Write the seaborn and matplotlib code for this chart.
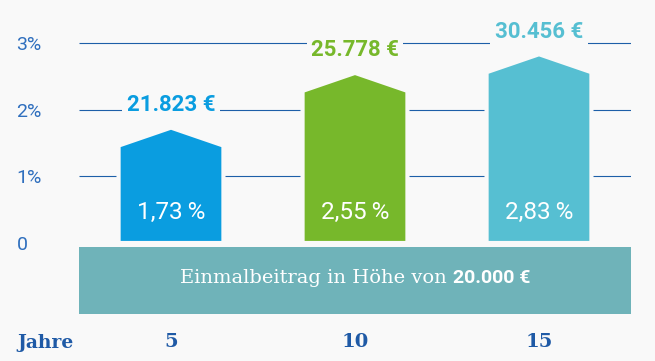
import matplotlib
matplotlib.use("Agg")
import matplotlib.pyplot as plt
import seaborn as sns
import pandas as pd
from matplotlib.patches import Polygon

# ---- data ----
years = ["5", "10", "15"]
rates = [1.73, 2.55, 2.83]
rate_labels = ["1,73\u2009%", "2,55\u2009%", "2,83\u2009%"]
amounts = ["21.823 €", "25.778 €", "30.456 €"]
bar_colors = ["#0a9de0", "#77b82b", "#56bfd2"]
y_ticks = [0, 1, 2, 3]
y_tick_labels = ["0", "1%", "2%", "3%"]
grid_levels = [1, 2, 3]
x_title = "Jahre"
band_regular = "Einmalbeitrag in Höhe von "
band_bold = "20.000 €"

# ---- style ----
BG = "#f9f9f9"
GRID = "#1d5fa8"
TICK = "#2f6fbe"
DARK = "#1f5aa6"
BAND = "#6fb3b9"

sns.set_theme(style="white")
plt.rcParams["font.family"] = ["Roboto", "DejaVu Sans"]

W, H = 655, 361
fig = plt.figure(figsize=(W / 100, H / 100), dpi=100, facecolor=BG)
# axes: x px 79..631, y px 0..314 (from top)
ax = fig.add_axes([79 / W, (H - 314) / H, 552 / W, 314 / H])
ax.set_facecolor(BG)

df = pd.DataFrame({"year": years, "rate": rates})
sns.barplot(data=df, x="year", y="rate", hue="year", palette=bar_colors,
            width=0.57, saturation=1, legend=False, ax=ax, zorder=3)

px_per_unit = 66.7
ymax = 243 / px_per_unit
ymin = -(314 - 243) / px_per_unit
ax.set_xlim(-0.5, 2.5)
ax.set_ylim(ymin, ymax)

roof = 18 / px_per_unit
for patch, val, col in zip(ax.patches, rates, bar_colors):
    x0 = patch.get_x()
    w = patch.get_width()
    patch.set_visible(False)
    xs = x0 + w / 2
    poly = Polygon([(x0, 0), (x0, val - roof), (xs, val), (x0 + w, val - roof),
                    (x0 + w, 0)], closed=True, facecolor=col, edgecolor=BG,
                   linewidth=3, joinstyle="miter", zorder=3)
    ax.add_patch(poly)

# gridlines
ax.hlines(grid_levels, -0.5, 2.5, color=GRID, linewidth=0.8, zorder=1)

# value labels above bars
for i, (val, txt, col) in enumerate(zip(rates, amounts, bar_colors)):
    ax.text(i, val + 0.34, txt, ha="center", va="center", color=col,
            fontsize=16, fontweight="bold", zorder=4,
            bbox=dict(boxstyle="square,pad=0.2", fc=BG, ec="none"))
    ax.text(i, 0.46, rate_labels[i], ha="center", va="center", color="white",
            fontsize=17.5, zorder=5)

# band
ax.axhspan(ymin, -0.06, xmin=0, xmax=1, color=BAND, zorder=2, linewidth=0)
fig.canvas.draw()
r = fig.canvas.get_renderer()
t1 = ax.text(0, -0.52, band_regular, ha="left", va="center", color="white",
             fontsize=14, family=["DejaVu Serif"], zorder=4)
t2 = ax.text(0, -0.52, band_bold, ha="left", va="center", color="white",
             fontsize=14, family=["Roboto", "DejaVu Sans"], fontweight="bold", zorder=4)
w1 = t1.get_window_extent(r).width
w2 = t2.get_window_extent(r).width
ax_px = ax.get_window_extent(r)
data_per_px = 3.0 / ax_px.width
start = 1.0 - (w1 + w2) / 2 * data_per_px
t1.set_x(start)
t2.set_x(start + w1 * data_per_px)

# axes ticks
ax.set_yticks(y_ticks, y_tick_labels)
ax.tick_params(axis="y", length=0, pad=45, labelsize=14, labelcolor=TICK)
for lab in ax.get_yticklabels():
    lab.set_ha("left")
ax.set_xticks(range(len(years)), years)
ax.tick_params(axis="x", length=0, pad=14, labelsize=14, labelcolor=DARK)
for lab in ax.get_xticklabels():
    lab.set_fontweight("bold")
    lab.set_family(["DejaVu Serif"])
ax.set_xlabel("")
ax.set_ylabel("")
for s in ax.spines.values():
    s.set_visible(False)

fig.text(17 / W, 1 - 343 / H, x_title, ha="left", va="center", color=DARK,
         fontsize=13.5, fontweight="bold", family=["DejaVu Serif"])

fig.savefig("out.png", dpi=100, facecolor=BG)
